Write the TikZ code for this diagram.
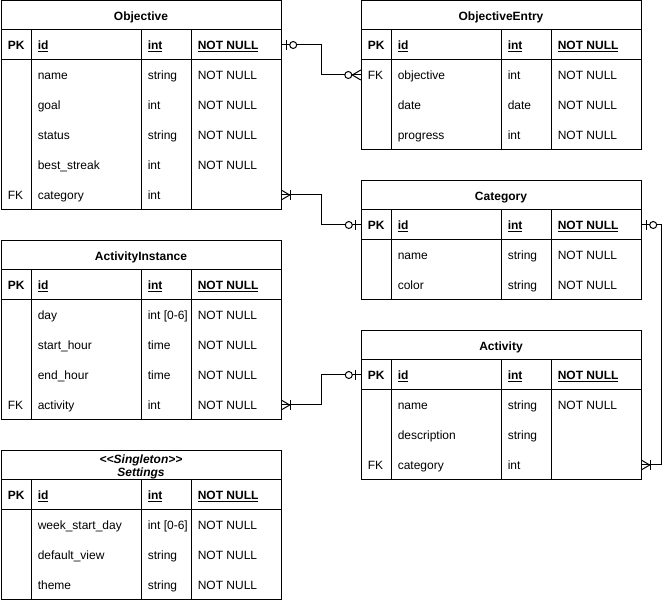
\documentclass[tikz,border=0pt]{standalone}
\usepackage{fontspec}
\setmainfont{Liberation Sans}
\usetikzlibrary{calc}
\tikzset{
  tline/.style={line width=1pt, draw=black},
  tblbox/.style={draw=black, line width=1pt, minimum width=280pt, inner sep=0pt, fill=white},
  rowb/.style={minimum width=280pt, minimum height=30pt, inner sep=0pt},
  cell/.style={anchor=base west, inner sep=0pt, font=\fontsize{12}{14}\selectfont},
  hdr/.style={anchor=base, inner sep=0pt, font=\fontsize{12}{14}\selectfont\bfseries},
  conn/.style={line width=1pt, draw=black},
}
\newcommand\ertbl[5]{%
  \node[tblbox, minimum height={#4-#3}] (#1) at (#2+140,{(#3+#4)/2}) {};
  \draw[tline] (#2,#3+29) -- (#2+280,#3+29);
  \draw[tline] (#2,#3+59) -- (#2+280,#3+59);
  \foreach \dx in {30,140,190} \draw[tline] (#2+\dx,#3+29) -- (#2+\dx,#4);
  \node[hdr] (#1-title) at (#2+140,#3+19.3) {#5};
}
\newcommand\pkrow[3]{%
  \node[rowb] (#1) at (#2+140,#3) {};
  \node[cell,font=\fontsize{12}{14}\selectfont\bfseries] at ($(#1.west)+(6.8,5)$) {PK};
  \node[cell,font=\fontsize{12}{14}\selectfont\bfseries] at ($(#1.west)+(36.8,5)$) {\underline{id}};
  \node[cell,font=\fontsize{12}{14}\selectfont\bfseries] at ($(#1.west)+(146.8,5)$) {\underline{int}};
  \node[cell,font=\fontsize{12}{14}\selectfont\bfseries] at ($(#1.west)+(196.8,5)$) {\underline{NOT NULL}};
}
\newcommand\frow[7]{%
  \node[rowb] (#1) at (#2+140,#3) {};
  \node[cell] at ($(#1.west)+(6.8,5)$) {#4};
  \node[cell] at ($(#1.west)+(36.8,5)$) {#5};
  \node[cell] at ($(#1.west)+(146.8,5)$) {#6};
  \node[cell] at ($(#1.west)+(196.8,5)$) {#7};
}
\newcommand\zeroone[2]{%
  \draw[conn] ($(#1)+(#2*5,-5)$) -- ($(#1)+(#2*5,5)$);
  \draw[conn, fill=white] ($(#1)+(#2*12,0)$) circle (3.5);
}
\newcommand\zeromany[2]{%
  \draw[conn] ($(#1)+(0,-5)$) -- ($(#1)+(#2*8.5,0)$) -- ($(#1)+(0,5)$);
  \draw[conn, fill=white] ($(#1)+(#2*12.5,0)$) circle (3.5);
}
\newcommand\onemany[2]{%
  \draw[conn] ($(#1)+(0,-5)$) -- ($(#1)+(#2*8.5,0)$) -- ($(#1)+(0,5)$);
  \draw[conn] ($(#1)+(#2*9,-5)$) -- ($(#1)+(#2*9,5)$);
}
\begin{document}
\begin{tikzpicture}[x=1pt,y=-1pt]
\useasboundingbox (0,0) rectangle (670,601);
\fill[white] (0,0) rectangle (670,601);

% Objective
\ertbl{obj}{1}{1}{210}{Objective}
\pkrow{obj-id}{1}{45}
\frow{obj-name}{1}{75}{}{name}{string}{NOT NULL}
\frow{obj-goal}{1}{105}{}{goal}{int}{NOT NULL}
\frow{obj-status}{1}{135}{}{status}{string}{NOT NULL}
\frow{obj-best}{1}{165}{}{best\_streak}{int}{NOT NULL}
\frow{obj-category}{1}{195}{FK}{category}{int}{}

% ObjectiveEntry
\ertbl{oe}{361}{1}{150}{ObjectiveEntry}
\pkrow{oe-id}{361}{45}
\frow{oe-objective}{361}{75}{FK}{objective}{int}{NOT NULL}
\frow{oe-date}{361}{105}{}{date}{date}{NOT NULL}
\frow{oe-progress}{361}{135}{}{progress}{int}{NOT NULL}

% Category
\ertbl{cat}{361}{181}{300}{Category}
\pkrow{cat-id}{361}{225}
\frow{cat-name}{361}{255}{}{name}{string}{NOT NULL}
\frow{cat-color}{361}{285}{}{color}{string}{NOT NULL}

% ActivityInstance
\ertbl{ai}{1}{241}{420}{ActivityInstance}
\pkrow{ai-id}{1}{285}
\frow{ai-day}{1}{315}{}{day}{int [0-6]}{NOT NULL}
\frow{ai-start}{1}{345}{}{start\_hour}{time}{NOT NULL}
\frow{ai-end}{1}{375}{}{end\_hour}{time}{NOT NULL}
\frow{ai-activity}{1}{405}{FK}{activity}{int}{NOT NULL}

% Activity
\ertbl{act}{361}{331}{480}{Activity}
\pkrow{act-id}{361}{375}
\frow{act-name}{361}{405}{}{name}{string}{NOT NULL}
\frow{act-desc}{361}{435}{}{description}{string}{}
\frow{act-category}{361}{465}{FK}{category}{int}{}

% Settings
\ertbl{set}{1}{451}{600}{}
\node[hdr, font=\fontsize{12}{14}\selectfont\bfseries\itshape] (set-stereo) at (141,464) {<\kern0pt<Singleton>\kern0pt>};
\node[hdr, font=\fontsize{12}{14}\selectfont\bfseries\itshape] (set-name) at (141,476.5) {Settings};
\pkrow{set-id}{1}{495}
\frow{set-week}{1}{525}{}{week\_start\_day}{int [0-6]}{NOT NULL}
\frow{set-view}{1}{555}{}{default\_view}{string}{NOT NULL}
\frow{set-theme}{1}{585}{}{theme}{string}{NOT NULL}

% Connectors
\draw[conn] (obj-id.east) -- ++(40,0) |- (oe-objective.west);
\zeroone{obj-id.east}{1}
\zeromany{oe-objective.west}{-1}

\draw[conn] (obj-category.east) -- ++(40,0) |- (cat-id.west);
\onemany{obj-category.east}{1}
\zeroone{cat-id.west}{-1}

\draw[conn] (ai-activity.east) -- ++(40,0) |- (act-id.west);
\onemany{ai-activity.east}{1}
\zeroone{act-id.west}{-1}

\draw[conn] (cat-id.east) -- ++(20,0) |- (act-category.east);
\zeroone{cat-id.east}{1}
\onemany{act-category.east}{1}
\end{tikzpicture}
\end{document}
